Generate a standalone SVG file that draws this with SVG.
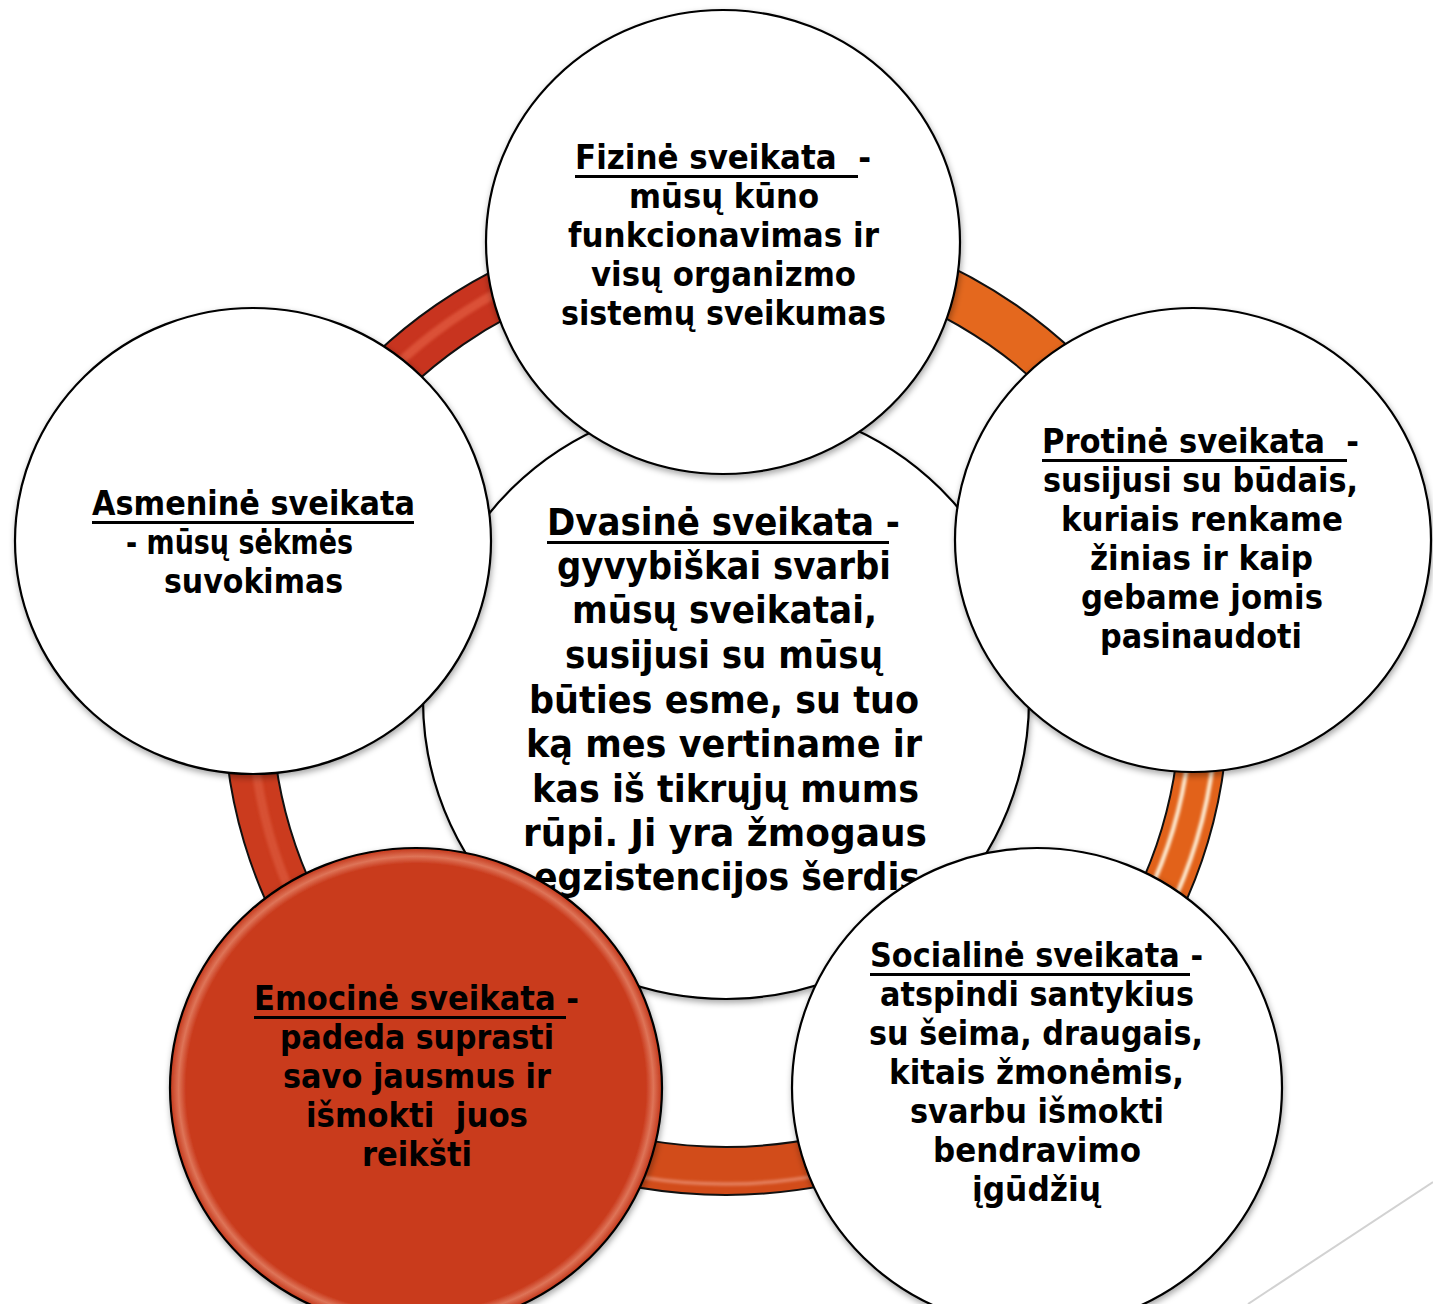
<svg xmlns="http://www.w3.org/2000/svg" width="1433" height="1304" viewBox="0 0 1433 1304">
  <defs>
    <style>
      .t { font-family: "DejaVu Sans", "Liberation Sans", sans-serif; font-weight: bold; font-size: 33px; fill: #000; white-space: pre; }
      .c { font-size: 37px; }
      .ul { fill: #000; }
      .node { fill: #fff; stroke: #000; stroke-width: 2.2; filter: url(#shadow); }
      .band-edge { fill: none; stroke: #111; stroke-width: 50; }
      .band { fill: none; stroke-width: 46; }
    </style>
    <filter id="shadow" x="-10%" y="-10%" width="120%" height="125%">
      <feDropShadow dx="1" dy="3" stdDeviation="3" flood-color="#000" flood-opacity="0.35"/>
    </filter>
    <filter id="soft" x="-5%" y="-5%" width="110%" height="110%">
      <feGaussianBlur stdDeviation="1.6"/>
    </filter>
    <radialGradient id="redFill" cx="0.5" cy="0.5" r="0.5">
      <stop offset="0" stop-color="#C93A1C"/>
      <stop offset="0.935" stop-color="#C93A1C"/>
      <stop offset="0.965" stop-color="#DE7458"/>
      <stop offset="1" stop-color="#C43619"/>
    </radialGradient>
  </defs>

  <!-- slide corner decoration -->
  <line x1="1433" y1="1182" x2="1248" y2="1304" stroke="#D2D2D2" stroke-width="2"/>

  <!-- ring connecting the outer nodes -->
  <g id="connectors">
    <!-- top-left: Asmeninė -> Fizinė -->
    <path class="band-edge" d="M275.1,550.2 A478,466 0 0 1 726,239"/>
    <path class="band" stroke="#C8341F" d="M275.1,550.2 A478,466 0 0 1 726,239"/>
    <path fill="none" stroke="#E0583C" stroke-width="9" opacity="0.8" filter="url(#soft)" d="M275.1,550.2 A484,472 0 0 1 726,233"/>
    <!-- top-right: Fizinė -> Protinė -->
    <path class="band-edge" d="M726,239 A478,466 0 0 1 1177.1,551"/>
    <path class="band" stroke="#E4681E" d="M726,239 A478,466 0 0 1 1177.1,551"/>
    <!-- right: Protinė -> Socialinė -->
    <path class="band-edge" d="M1177.1,551 A478,466 0 0 1 1021.6,1071.1"/>
    <path class="band" stroke="#E2621A" d="M1177.1,551 A478,466 0 0 1 1021.6,1071.1"/>
    <path fill="none" stroke="#FFF3DC" stroke-width="4" filter="url(#soft)" d="M1190,551 A492,480 0 0 1 1030,1082"/>
    <path fill="none" stroke="#FFF3DC" stroke-width="4" filter="url(#soft)" d="M1164,551 A464,452 0 0 1 1013,1060"/>
    <!-- bottom: Socialinė -> Emocinė -->
    <path class="band-edge" d="M1021.6,1071.1 A478,466 0 0 1 431.1,1071.7"/>
    <path class="band" stroke="#D24C1A" d="M1021.6,1071.1 A478,466 0 0 1 431.1,1071.7"/>
    <path fill="none" stroke="#EE9A80" stroke-width="3" opacity="0.8" filter="url(#soft)" d="M1030,1082 A498,486 0 0 1 422,1084"/>
    <!-- left: Emocinė -> Asmeninė -->
    <path class="band-edge" d="M431.1,1071.7 A478,466 0 0 1 275.1,550.2"/>
    <path class="band" stroke="#CB3B1E" d="M431.1,1071.7 A478,466 0 0 1 275.1,550.2"/>
    <path fill="none" stroke="#DD5A3C" stroke-width="9" opacity="0.7" filter="url(#soft)" d="M431.1,1071.7 A470,458 0 0 1 283,550"/>
  </g>

  <!-- central node -->
  <g id="dvasine">
    <ellipse class="node" cx="726" cy="700" rx="303" ry="299"/>
    <text class="t c" x="547" y="535" textLength="353" lengthAdjust="spacingAndGlyphs">Dvasinė sveikata -</text>
    <rect class="ul" x="547" y="541" width="342" height="3"/>
    <text class="t c" x="557" y="579" textLength="334" lengthAdjust="spacingAndGlyphs">gyvybiškai svarbi</text>
    <text class="t c" x="572" y="623" textLength="305" lengthAdjust="spacingAndGlyphs">mūsų sveikatai,</text>
    <text class="t c" x="565" y="668" textLength="318" lengthAdjust="spacingAndGlyphs">susijusi su mūsų</text>
    <text class="t c" x="529" y="713" textLength="390" lengthAdjust="spacingAndGlyphs">būties esme, su tuo</text>
    <text class="t c" x="526" y="757" textLength="396" lengthAdjust="spacingAndGlyphs">ką mes vertiname ir</text>
    <text class="t c" x="532" y="802" textLength="387" lengthAdjust="spacingAndGlyphs">kas iš tikrųjų mums</text>
    <text class="t c" x="523" y="846" textLength="404" lengthAdjust="spacingAndGlyphs">rūpi. Ji yra žmogaus</text>
    <text class="t c" x="534" y="890" textLength="386" lengthAdjust="spacingAndGlyphs">egzistencijos šerdis</text>
  </g>

  <g id="fizine">
    <ellipse class="node" cx="723" cy="242" rx="237" ry="232"/>
    <text class="t" x="575" y="169" textLength="296" lengthAdjust="spacingAndGlyphs">Fizinė sveikata  -</text>
    <rect class="ul" x="575" y="175" width="283" height="3"/>
    <text class="t" x="629" y="208" textLength="190" lengthAdjust="spacingAndGlyphs">mūsų kūno</text>
    <text class="t" x="568" y="247" textLength="311" lengthAdjust="spacingAndGlyphs">funkcionavimas ir</text>
    <text class="t" x="591" y="286" textLength="265" lengthAdjust="spacingAndGlyphs">visų organizmo</text>
    <text class="t" x="561" y="325" textLength="325" lengthAdjust="spacingAndGlyphs">sistemų sveikumas</text>
  </g>

  <g id="protine">
    <ellipse class="node" cx="1193" cy="540" rx="238" ry="232"/>
    <text class="t" x="1042" y="453" textLength="317" lengthAdjust="spacingAndGlyphs">Protinė sveikata  -</text>
    <rect class="ul" x="1042" y="459" width="305" height="3"/>
    <text class="t" x="1043" y="492" textLength="315" lengthAdjust="spacingAndGlyphs">susijusi su būdais,</text>
    <text class="t" x="1061" y="531" textLength="282" lengthAdjust="spacingAndGlyphs">kuriais renkame</text>
    <text class="t" x="1090" y="570" textLength="223" lengthAdjust="spacingAndGlyphs">žinias ir kaip</text>
    <text class="t" x="1081" y="609" textLength="242" lengthAdjust="spacingAndGlyphs">gebame jomis</text>
    <text class="t" x="1100" y="648" textLength="202" lengthAdjust="spacingAndGlyphs">pasinaudoti</text>
  </g>

  <g id="asmenine">
    <ellipse class="node" cx="253" cy="541" rx="238" ry="233"/>
    <text class="t" x="92" y="515" textLength="323" lengthAdjust="spacingAndGlyphs">Asmeninė sveikata</text>
    <rect class="ul" x="92" y="521" width="322" height="3"/>
    <text class="t" x="126" y="554" textLength="227" lengthAdjust="spacingAndGlyphs">- mūsų sėkmės</text>
    <text class="t" x="164" y="593" textLength="179" lengthAdjust="spacingAndGlyphs">suvokimas</text>
  </g>

  <g id="emocine">
    <ellipse cx="416" cy="1088" rx="246" ry="240" fill="url(#redFill)" stroke="#000" stroke-width="2.2" filter="url(#shadow)"/>
    <text class="t" x="254" y="1010" textLength="325" lengthAdjust="spacingAndGlyphs">Emocinė sveikata -</text>
    <rect class="ul" x="254" y="1016" width="312" height="3"/>
    <text class="t" x="280" y="1049" textLength="274" lengthAdjust="spacingAndGlyphs">padeda suprasti</text>
    <text class="t" x="283" y="1088" textLength="268" lengthAdjust="spacingAndGlyphs">savo jausmus ir</text>
    <text class="t" x="306" y="1127" textLength="222" lengthAdjust="spacingAndGlyphs">išmokti  juos</text>
    <text class="t" x="362" y="1166" textLength="110" lengthAdjust="spacingAndGlyphs">reikšti</text>
  </g>

  <g id="socialine">
    <ellipse class="node" cx="1037" cy="1088" rx="245" ry="240"/>
    <text class="t" x="870" y="967" textLength="333" lengthAdjust="spacingAndGlyphs">Socialinė sveikata -</text>
    <rect class="ul" x="870" y="973" width="320" height="3"/>
    <text class="t" x="880" y="1006" textLength="314" lengthAdjust="spacingAndGlyphs">atspindi santykius</text>
    <text class="t" x="869" y="1045" textLength="334" lengthAdjust="spacingAndGlyphs">su šeima, draugais,</text>
    <text class="t" x="889" y="1084" textLength="295" lengthAdjust="spacingAndGlyphs">kitais žmonėmis,</text>
    <text class="t" x="910" y="1123" textLength="254" lengthAdjust="spacingAndGlyphs">svarbu išmokti</text>
    <text class="t" x="933" y="1162" textLength="208" lengthAdjust="spacingAndGlyphs">bendravimo</text>
    <text class="t" x="972" y="1201" textLength="129" lengthAdjust="spacingAndGlyphs">įgūdžių</text>
  </g>
</svg>
